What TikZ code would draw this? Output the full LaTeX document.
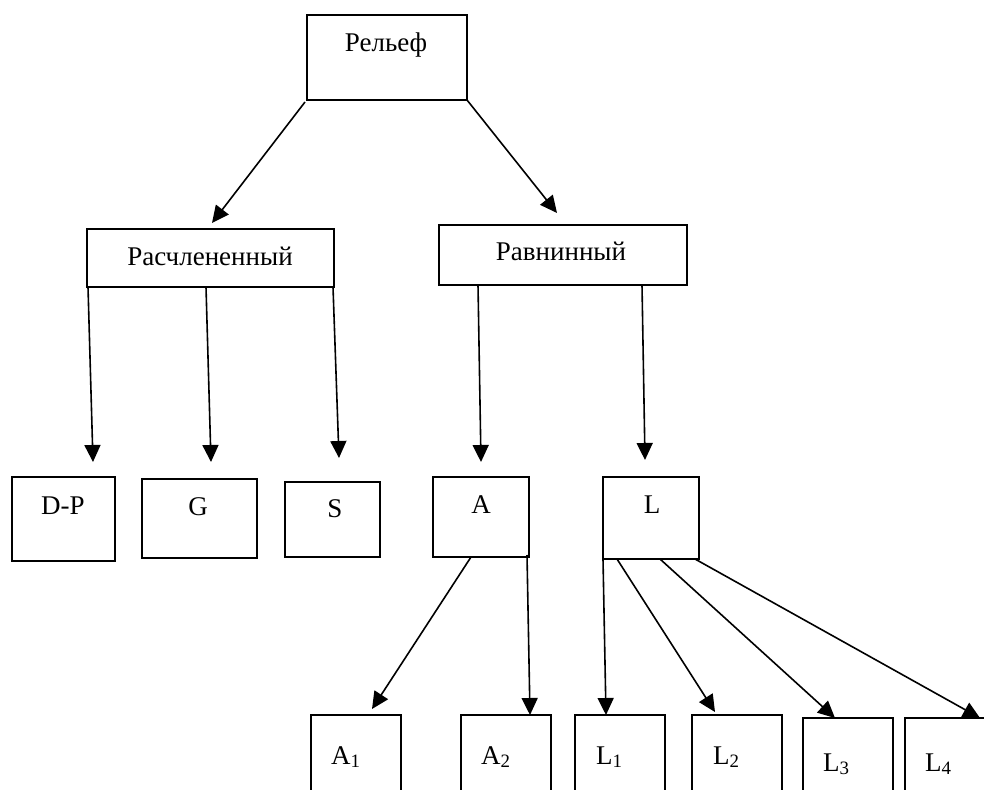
\documentclass[tikz,border=0pt]{standalone}
\usepackage{fontspec}
\setmainfont{Liberation Serif}
\usetikzlibrary{arrows.meta}
\begin{document}
\begin{tikzpicture}[x=1pt,y=-1pt,
  box/.style={draw, line width=1.6pt, inner sep=0pt, outer sep=0pt, anchor=north west},
  lbl/.style={anchor=base, inner sep=0pt, font=\fontsize{27}{32}\selectfont},
  lblw/.style={lbl, anchor=base west},
  arr/.style={line width=1.6pt, -{Triangle[length=17pt,width=16pt]}}]
\useasboundingbox (0,0) rectangle (984,789);
\clip (0,0) rectangle (984,789);
% boxes
\node[box, minimum width=160, minimum height=85] (rel) at (307,15) {};
\node[box, minimum width=247, minimum height=58] (ras) at (87,229) {};
\node[box, minimum width=248, minimum height=60] (rav) at (439,225) {};
\node[box, minimum width=103, minimum height=84] (dp) at (12,477) {};
\node[box, minimum width=115, minimum height=79] (g) at (142,479) {};
\node[box, minimum width=95, minimum height=75] (s) at (285,482) {};
\node[box, minimum width=96, minimum height=80] (a) at (433,477) {};
\node[box, minimum width=96, minimum height=82] (l) at (603,477) {};
\node[box, minimum width=90, minimum height=90] (a1) at (311,715) {};
\node[box, minimum width=90, minimum height=90] (a2) at (461,715) {};
\node[box, minimum width=90, minimum height=90] (l1) at (575,715) {};
\node[box, minimum width=90, minimum height=90] (l2) at (692,715) {};
\node[box, minimum width=90, minimum height=90] (l3) at (803,718) {};
\node[box, minimum width=95, minimum height=90] (l4) at (905,718) {};
% labels
\node[lbl] (relT) at (386,52) {Рельеф};
\node[lbl] (rasT) at (210,265) {Расчлененный};
\node[lbl] (ravT) at (561,260) {Равнинный};
\node[lbl] (dpT) at (63,514) {D-P};
\node[lbl] (gT) at (198,515) {G};
\node[lbl] (sT) at (335,517) {S};
\node[lbl] (aT) at (481,513) {A};
\node[lbl] (lT) at (652,513) {L};
\node[lblw] (a1T) at (331,764) {A\textsubscript{1}};
\node[lblw] (a2T) at (481,764) {A\textsubscript{2}};
\node[lblw] (l1T) at (596,764) {L\textsubscript{1}};
\node[lblw] (l2T) at (713,764) {L\textsubscript{2}};
\node[lblw] (l3T) at (823,771) {L\textsubscript{3}};
\node[lblw] (l4T) at (925,771) {L\textsubscript{4}};
% connectors
\draw[arr] ([shift={(-2,2)}]rel.south west) -- ([shift={(1.5,-6)}]ras.north);
\draw[arr] (rel.south east) -- ([shift={(-6,-12)}]rav.north);
\draw[arr] ([shift={(1,0)}]ras.south west) -- ([shift={(-22,-15)}]dp.north east);
\draw[arr] ([shift={(-4.5,0)}]ras.south) -- ([shift={(11.5,-17)}]g.north);
\draw[arr] ([shift={(-1,0)}]ras.south east) -- ([shift={(6.5,-24)}]s.north);
\draw[arr] ([shift={(39,0)}]rav.south west) -- ([shift={(0,-15)}]a.north);
\draw[arr] ([shift={(-45,0)}]rav.south east) -- ([shift={(-6,-17)}]l.north);
\draw[arr] ([shift={(-10,0)}]a.south) -- ([shift={(16,-6)}]a1.north);
\draw[arr] ([shift={(-2,-2)}]a.south east) -- ([shift={(-21,0)}]a2.north east);
\draw[arr] (l.south west) -- ([shift={(-14,0)}]l1.north);
\draw[arr] ([shift={(14,0)}]l.south west) -- ([shift={(-22,-3)}]l2.north);
\draw[arr] ([shift={(9,0)}]l.south) -- ([shift={(-13,0)}]l3.north);
\draw[arr] ([shift={(-4,0)}]l.south east) -- ([shift={(75,0)}]l4.north west);
\end{tikzpicture}
\end{document}
